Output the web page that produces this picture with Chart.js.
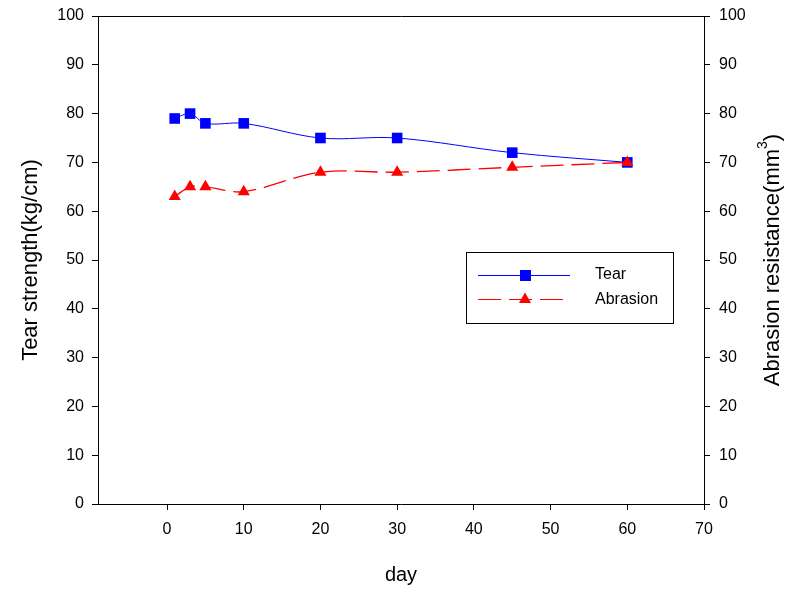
<!DOCTYPE html>
<html>
<head>
<meta charset="utf-8">
<script src="https://cdn.jsdelivr.net/npm/chart.js@4/dist/chart.umd.min.js"></script>
<style>
html,body{margin:0;padding:0;background:#fff;}
#wrap{width:800px;height:593px;}
</style>
</head>
<body>
<div id="wrap"><canvas id="c" width="800" height="593"></canvas></div>
<script>
// ---- data ----
const days = [1, 3, 5, 10, 20, 30, 45, 60];
const tearValues = [79, 80, 78, 78, 75, 75, 72, 70];
const abrasionValues = [63, 65, 65, 64, 68, 68, 69, 70];
const xTicks = [0, 10, 20, 30, 40, 50, 60, 70];
const yTicks = [0, 10, 20, 30, 40, 50, 60, 70, 80, 90, 100];
const seriesNames = ['Tear', 'Abrasion'];
const xTitle = 'day';
const yLeftTitle = 'Tear strength(kg/cm)';
const yRightTitleMain = 'Abrasion resistance(mm';
const yRightTitleSup = '3';

const FONT = '"Liberation Sans", Arial, Helvetica, sans-serif';
const BLUE = '#0000ff';
const RED = '#ff0000';

function pts(xs, ys){ return xs.map((x,i)=>({x:x, y:ys[i]})); }

const framePlugin = {
  id: 'frame',
  afterDraw(chart){
    const ctx = chart.ctx;
    const a = chart.chartArea;
    ctx.save();
    // top border
    ctx.strokeStyle = '#000';
    ctx.lineWidth = 1;
    ctx.beginPath();
    ctx.moveTo(a.left, Math.round(a.top) + 0.5);
    ctx.lineTo(a.right + 1, Math.round(a.top) + 0.5);
    ctx.stroke();

    // right axis title (reads bottom to top)
    ctx.save();
    ctx.translate(773, 260);
    ctx.rotate(-Math.PI/2);
    ctx.fillStyle = '#000';
    ctx.textBaseline = 'middle';
    ctx.textAlign = 'left';
    const mainFont = '22px ' + FONT;
    const supFont = '14px ' + FONT;
    ctx.font = mainFont;
    const w1 = ctx.measureText(yRightTitleMain).width;
    const w3 = ctx.measureText(')').width;
    ctx.font = supFont;
    const w2 = ctx.measureText(yRightTitleSup).width;
    let x0 = -(w1 + w2 + w3)/2;
    ctx.font = mainFont;
    ctx.fillText(yRightTitleMain, x0, 0);
    ctx.font = supFont;
    ctx.fillText(yRightTitleSup, x0 + w1, -10);
    ctx.font = mainFont;
    ctx.fillText(')', x0 + w1 + w2, 0);
    ctx.restore();

    // legend
    const ds = chart.data.datasets;
    ctx.strokeStyle = '#000';
    ctx.lineWidth = 1;
    ctx.strokeRect(466.5, 252.5, 207, 71);
    // Tear
    let y = 275.5;
    ctx.strokeStyle = ds[0].borderColor;
    ctx.beginPath(); ctx.moveTo(478, y); ctx.lineTo(570, y); ctx.stroke();
    ctx.fillStyle = ds[0].pointBackgroundColor;
    ctx.fillRect(520, y - 5.5, 11, 11);
    // Abrasion
    y = 299.5;
    ctx.strokeStyle = ds[1].borderColor;
    ctx.setLineDash(ds[1].borderDash);
    ctx.beginPath(); ctx.moveTo(478, y); ctx.lineTo(564, y); ctx.stroke();
    ctx.setLineDash([]);
    ctx.fillStyle = ds[1].pointBackgroundColor;
    const r = 7;
    ctx.beginPath();
    ctx.moveTo(525, y - r);
    ctx.lineTo(525 + r*Math.sqrt(3)/2, y + r/2);
    ctx.lineTo(525 - r*Math.sqrt(3)/2, y + r/2);
    ctx.closePath();
    ctx.fill();
    // texts
    ctx.fillStyle = '#000';
    ctx.font = '16px ' + FONT;
    ctx.textBaseline = 'middle';
    ctx.textAlign = 'left';
    ctx.fillText(ds[0].label, 595, 275);
    ctx.fillText(ds[1].label, 595, 300);
    ctx.restore();
  }
};

const tickFont = {family: FONT, size: 16};

function fixY(width){
  return s => { s.width = width; s.paddingTop = 0; s.paddingBottom = 0; };
}

new Chart(document.getElementById('c'), {
  type: 'line',
  data: {
    datasets: [
      {
        label: seriesNames[0],
        data: pts(days, tearValues),
        yAxisID: 'y',
        borderColor: BLUE,
        borderWidth: 1,
        backgroundColor: BLUE,
        pointBackgroundColor: BLUE,
        pointBorderWidth: 0,
        pointStyle: 'rect',
        pointRadius: 7.5,
        tension: 0.35,
        fill: false,
        order: 1
      },
      {
        label: seriesNames[1],
        data: pts(days, abrasionValues),
        yAxisID: 'y2',
        borderColor: RED,
        borderWidth: 1.3,
        borderDash: [23, 8],
        backgroundColor: RED,
        pointBackgroundColor: RED,
        pointBorderWidth: 0,
        pointStyle: 'triangle',
        pointRadius: 7,
        tension: 0.35,
        fill: false,
        order: 0
      }
    ]
  },
  options: {
    responsive: false,
    devicePixelRatio: 1,
    animation: false,
    layout: {padding: {top: 16, left: 0, right: 0, bottom: 0}},
    plugins: {legend: {display: false}, tooltip: {enabled: false}},
    scales: {
      x: {
        type: 'linear',
        position: 'bottom',
        min: -9,
        max: 70,
        afterBuildTicks: s => { s.ticks = xTicks.map(v => ({value: v})); },
        afterFit: s => { s.height = 89; s.paddingLeft = 0; s.paddingRight = 0; },
        ticks: {font: tickFont, color: '#000', padding: 10, maxRotation: 0, autoSkip: false},
        grid: {drawOnChartArea: false, drawTicks: true, tickLength: 6, color: '#000'},
        border: {display: true, color: '#000', width: 1},
        title: {display: true, text: xTitle, color: '#000', font: {family: FONT, size: 20}, padding: {top: 0, bottom: 6}}
      },
      y: {
        type: 'linear',
        position: 'left',
        min: 0,
        max: 100,
        afterBuildTicks: s => { s.ticks = yTicks.map(v => ({value: v})); },
        afterFit: fixY(98),
        ticks: {font: tickFont, color: '#000', padding: 8},
        grid: {drawOnChartArea: false, drawTicks: true, tickLength: 6, color: '#000'},
        border: {display: true, color: '#000', width: 1},
        title: {display: true, text: yLeftTitle, color: '#000', font: {family: FONT, size: 22}, padding: {top: 18, bottom: 0}}
      },
      y2: {
        type: 'linear',
        position: 'right',
        min: 0,
        max: 100,
        afterBuildTicks: s => { s.ticks = yTicks.map(v => ({value: v})); },
        afterFit: fixY(96),
        ticks: {font: tickFont, color: '#000', padding: 9},
        grid: {drawOnChartArea: false, drawTicks: true, tickLength: 6, color: '#000'},
        border: {display: true, color: '#000', width: 1}
      }
    }
  },
  plugins: [framePlugin]
});
</script>
</body>
</html>
